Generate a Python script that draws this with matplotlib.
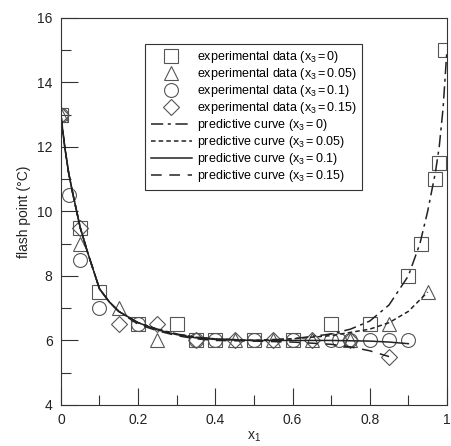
import numpy as np
import matplotlib
matplotlib.use("Agg")
from matplotlib import pyplot as plt
from matplotlib.ticker import MultipleLocator

plt.rcParams['font.family'] = ['Liberation Sans', 'DejaVu Sans']
plt.rcParams['mathtext.fontset'] = 'custom'
plt.rcParams['mathtext.rm'] = 'Liberation Sans'
plt.rcParams['mathtext.it'] = 'Liberation Sans'

# experimental data
sq_x = [0, 0.05, 0.1, 0.2, 0.3, 0.35, 0.4, 0.5, 0.6, 0.7, 0.8, 0.9, 0.933, 0.97, 0.98, 0.995]
sq_y = [13, 9.5, 7.5, 6.5, 6.5, 6.0, 6.0, 6.0, 6.0, 6.5, 6.5, 8.0, 9.0, 11.0, 11.5, 15.0]

tri_x = [0, 0.05, 0.15, 0.25, 0.45, 0.55, 0.65, 0.75, 0.85, 0.95]
tri_y = [13, 9.0, 7.0, 6.0, 6.0, 6.0, 6.0, 6.0, 6.5, 7.5]

cir_x = [0, 0.02, 0.05, 0.1, 0.2, 0.35, 0.4, 0.5, 0.6, 0.7, 0.72, 0.75, 0.8, 0.85, 0.9]
cir_y = [13, 10.5, 8.5, 7.0, 6.5, 6.0, 6.0, 6.0, 6.0, 6.0, 6.0, 6.0, 6.0, 6.0, 6.0]

dia_x = [0, 0.05, 0.15, 0.25, 0.35, 0.45, 0.55, 0.65, 0.75, 0.85]
dia_y = [13, 9.5, 6.5, 6.5, 6.0, 6.0, 6.0, 6.0, 6.0, 5.5]

# predictive curves
c0_x = [0, 0.01, 0.02, 0.03, 0.05, 0.07, 0.1, 0.125, 0.15, 0.2, 0.25, 0.3, 0.35, 0.4, 0.5,
        0.6, 0.7, 0.75, 0.8, 0.85, 0.9, 0.93, 0.95, 0.97, 0.98, 0.99, 1.0]
c0_y = [13, 12.0, 11.2, 10.6, 9.5, 8.7, 7.6, 7.2, 6.9, 6.55, 6.35, 6.2, 6.1, 6.05, 6.0,
        6.05, 6.2, 6.35, 6.6, 7.1, 8.0, 9.0, 10.0, 11.2, 12.0, 13.2, 15.0]

c1_x = [0, 0.01, 0.02, 0.03, 0.05, 0.07, 0.1, 0.125, 0.15, 0.2, 0.25, 0.3, 0.35, 0.4, 0.5,
        0.6, 0.7, 0.75, 0.8, 0.85, 0.9, 0.95]
c1_y = [13, 12.0, 11.2, 10.6, 9.5, 8.7, 7.6, 7.2, 6.9, 6.55, 6.35, 6.2, 6.1, 6.05, 6.0,
        6.05, 6.15, 6.25, 6.35, 6.55, 6.9, 7.5]

c2_x = [0, 0.01, 0.02, 0.03, 0.05, 0.07, 0.1, 0.125, 0.15, 0.2, 0.25, 0.3, 0.35, 0.4, 0.5,
        0.6, 0.7, 0.8, 0.85, 0.9]
c2_y = [13, 12.0, 11.2, 10.6, 9.5, 8.7, 7.6, 7.2, 6.9, 6.55, 6.33, 6.18, 6.08, 6.03, 6.0,
        6.0, 6.0, 5.98, 5.95, 5.9]

c3_x = [0, 0.01, 0.02, 0.03, 0.05, 0.07, 0.1, 0.125, 0.15, 0.2, 0.25, 0.3, 0.35, 0.4, 0.5,
        0.6, 0.7, 0.75, 0.8, 0.85]
c3_y = [13, 12.0, 11.2, 10.6, 9.5, 8.7, 7.6, 7.2, 6.9, 6.5, 6.3, 6.15, 6.05, 6.0, 5.98,
        5.95, 5.88, 5.8, 5.68, 5.5]

fig = plt.figure(figsize=(4.51, 4.46), dpi=100)
ax = fig.add_axes([0.135, 0.092, 0.856, 0.868])

mk = dict(linestyle='none', markerfacecolor='none', markeredgecolor='#555555',
          markeredgewidth=0.8, markersize=10)
ax.plot(sq_x, sq_y, marker='s', label='experimental data ($x_3 = 0$)', **mk)
ax.plot(tri_x, tri_y, marker='^', label='experimental data ($x_3 = 0.05$)', **mk)
ax.plot(cir_x, cir_y, marker='o', label='experimental data ($x_3 = 0.1$)', **mk)
ax.plot(dia_x, dia_y, marker='D', label='experimental data ($x_3 = 0.15$)',
        **{**mk, 'markersize': 8})

ln = dict(color='#222222', linewidth=1.1)
ax.plot(c0_x, c0_y, linestyle=(0, (8, 3, 2, 3)), label='predictive curve ($x_3 = 0$)', **ln)
ax.plot(c1_x, c1_y, linestyle=(0, (3, 2)), label='predictive curve ($x_3 = 0.05$)', **ln)
ax.plot(c2_x, c2_y, linestyle='-', label='predictive curve ($x_3 = 0.1$)', **ln)
ax.plot(c3_x, c3_y, linestyle=(0, (7, 5)), label='predictive curve ($x_3 = 0.15$)', **ln)

ax.set_xlim(0, 1)
ax.set_ylim(4, 16)
ax.xaxis.set_major_locator(MultipleLocator(0.2))
ax.xaxis.set_minor_locator(MultipleLocator(0.1))
ax.yaxis.set_major_locator(MultipleLocator(2))
ax.yaxis.set_minor_locator(MultipleLocator(1))
ax.set_xticks([0, 0.2, 0.4, 0.6, 0.8, 1.0])
ax.set_xticklabels(['0', '0.2', '0.4', '0.6', '0.8', '1'])
ax.tick_params(which='both', direction='in', top=False, right=False, labelsize=10,
               color='#333333', labelcolor='#222222')
ax.tick_params(which='major', length=12, width=0.8, pad=6)
ax.tick_params(which='minor', length=7, width=0.8)
for s in ax.spines.values():
    s.set_linewidth(0.8)
    s.set_color('#333333')

ax.set_xlabel('x$_1$', fontsize=10, labelpad=2, color='#222222')
ax.set_ylabel('flash point (°C)', fontsize=10, labelpad=4, color='#222222')

leg = ax.legend(loc='upper left', bbox_to_anchor=(0.218, 0.933), fontsize=9,
                handlelength=3.3, labelspacing=0.08, borderpad=0.45, handletextpad=0.4,
                borderaxespad=0, fancybox=False, framealpha=1, edgecolor='#333333')
leg.get_frame().set_linewidth(0.8)

fig.savefig('out.png', dpi=100)
